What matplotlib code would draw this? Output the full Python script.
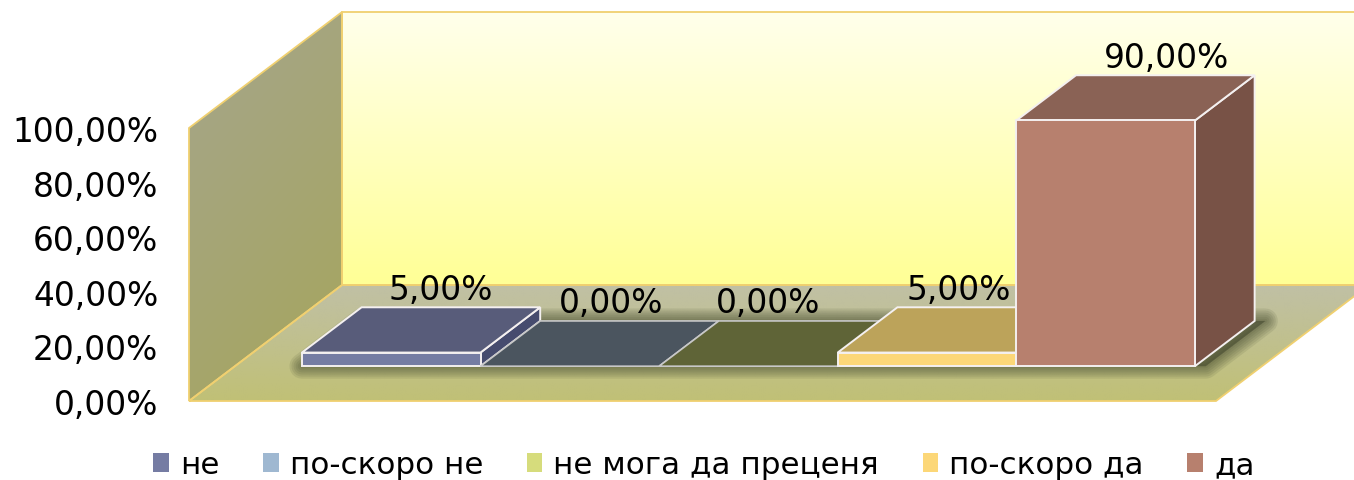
import numpy as np
import matplotlib
matplotlib.use('Agg')
import matplotlib.pyplot as plt
from matplotlib.patches import Polygon, Patch

# %%
categorias = ['не', 'по-скоро не', 'не мога да преценя', 'по-скоро да', 'да']
valores = [5.0, 0.0, 0.0, 5.0, 90.0]
rotulos = ['5,00%', '0,00%', '0,00%', '5,00%', '90,00%']
ticks = [0, 20, 40, 60, 80, 100]
tick_labels = ['0,00%', '20,00%', '40,00%', '60,00%', '80,00%', '100,00%']

cor_frente = ['#757CA3', '#9FB8D1', '#D6DC7C', '#FCD778', '#B7806E']
cor_topo = ['#585C7A', '#4B555F', '#5F6437', '#BCA35A', '#8A6255']
cor_lado = ['#464B6E', '#4B555F', '#5F6437', '#8F7B45', '#785246']
label_dx = [0.275, 0.23, 0.11, 0.175, 0.34]  # deslocamento dos rotulos

W, H = 1354, 481
XMIN, XMAX = -0.875, 4.875
DEPTH_X, DEPTH_Y = 0.857, 42.5  # vetor de profundidade em unidades de dados
Z0, Z1 = 0.30, 0.69

plt.rcParams['font.family'] = 'DejaVu Sans'
FS = 23.7
FS_LEG = 22.3


def proj(x, y, z):
    return (x + z * DEPTH_X, y + z * DEPTH_Y)


def gradiente(ax, extent, poly, c0, c1, diagonal=False):
    # c0 embaixo, c1 em cima
    n = 64
    t = np.linspace(0, 1, n)
    tt = np.tile(t[:, None], (1, n))
    if diagonal:
        tt = np.clip(tt * 0.7 + (1 - t[None, :]) * 0.3, 0, 1)
    img = np.array(c0)[None, None, :] + tt[:, :, None] * (np.array(c1) - np.array(c0))
    im = ax.imshow(img / 255.0, extent=extent, origin='lower', aspect='auto',
                   interpolation='bilinear', zorder=1)
    pat = Polygon(poly, closed=True, facecolor='none', edgecolor='none',
                  transform=ax.transData)
    ax.add_patch(pat)
    pat.set_clip_on(False)
    im.set_clip_box(fig.bbox)
    im.set_clip_path(pat)


# %%
fig = plt.figure(figsize=(W / 100, H / 100), dpi=100)
ax = fig.add_axes([189 / W, (H - 402) / H, 1027 / W, 273 / H])
ax.patch.set_visible(False)

# paredes e piso
xr = XMAX + 0.3
parede_fundo = [proj(XMIN, 0, 1), proj(xr, 0, 1), proj(xr, 100, 1), proj(XMIN, 100, 1)]
parede_esq = [proj(XMIN, 0, 0), proj(XMIN, 0, 1), proj(XMIN, 100, 1), proj(XMIN, 100, 0)]
piso = [proj(XMIN, 0, 0), proj(XMAX, 0, 0), proj(XMAX, 0, 1), proj(XMIN, 0, 1)]

gradiente(ax, (XMIN + DEPTH_X, XMAX + 1.2, DEPTH_Y, 100 + DEPTH_Y), parede_fundo,
          (255, 255, 150), (255, 255, 235))
gradiente(ax, (XMIN, XMIN + DEPTH_X, 0, 100 + DEPTH_Y), parede_esq,
          (166, 166, 92), (165, 165, 140), diagonal=True)
gradiente(ax, (XMIN, XMAX + DEPTH_X, 0, DEPTH_Y), piso,
          (192, 192, 118), (192, 192, 165))

borda = '#F0D070'
for p in (parede_fundo, parede_esq, piso):
    ax.add_patch(Polygon(p, closed=True, facecolor='none', edgecolor=borda,
                         linewidth=1.3, zorder=2, clip_on=False))

# sombra no piso, puxada um pouco para a direita
sombra = [proj(-0.5, 0, Z0), proj(4.56, 0, Z0), proj(4.56, 0, Z1), proj(-0.5, 0, Z1)]
for lw in [18, 15, 12, 9, 6, 3]:
    ax.add_patch(Polygon(sombra, closed=True, facecolor='#3C4128', edgecolor='#3C4128',
                         alpha=0.11, linewidth=lw, joinstyle='round', zorder=3, clip_on=False))

# barras
for i, v in enumerate(valores):
    x0, x1 = i - 0.5, i + 0.5
    topo = [proj(x0, v, Z0), proj(x1, v, Z0), proj(x1, v, Z1), proj(x0, v, Z1)]
    if v == 0:
        ax.add_patch(Polygon(topo, closed=True, facecolor=cor_topo[i], edgecolor='#C8C8C8',
                             linewidth=1.2, zorder=4 + i, clip_on=False))
        continue
    frente = [proj(x0, 0, Z0), proj(x1, 0, Z0), proj(x1, v, Z0), proj(x0, v, Z0)]
    lado = [proj(x1, 0, Z0), proj(x1, 0, Z1), proj(x1, v, Z1), proj(x1, v, Z0)]
    for face, cor in ((lado, cor_lado[i]), (topo, cor_topo[i]), (frente, cor_frente[i])):
        ax.add_patch(Polygon(face, closed=True, facecolor=cor, edgecolor='#F4F0F0',
                             linewidth=1.4, zorder=4 + i, clip_on=False))

# rotulos
for i, v in enumerate(valores):
    x, y = proj(i + label_dx[i], v, Z0)
    y = proj(i, v, Z1)[1]
    ax.annotate(rotulos[i], (x, y), xytext=(0, 13),
                textcoords='offset points', ha='center', va='center', fontsize=FS,
                color='black', zorder=20, annotation_clip=False)

ax.set_xlim(XMIN, XMAX)
ax.set_ylim(0, 100)
ax.set_xticks([])
ax.set_yticks(ticks)
ax.set_yticklabels(tick_labels, fontsize=FS)
ax.tick_params(axis='y', length=0, pad=22)
for s in ax.spines.values():
    s.set_visible(False)

handles = [Patch(facecolor=c, edgecolor='none') for c in cor_frente]
fig.legend(handles, categorias, ncol=5, loc='center', bbox_to_anchor=(704 / W, (H - 466) / H),
           frameon=False, fontsize=FS_LEG, handlelength=0.5, handleheight=0.55,
           handletextpad=0.36, columnspacing=1.41, borderpad=0, borderaxespad=0)

plt.savefig('out.png', dpi=100)
